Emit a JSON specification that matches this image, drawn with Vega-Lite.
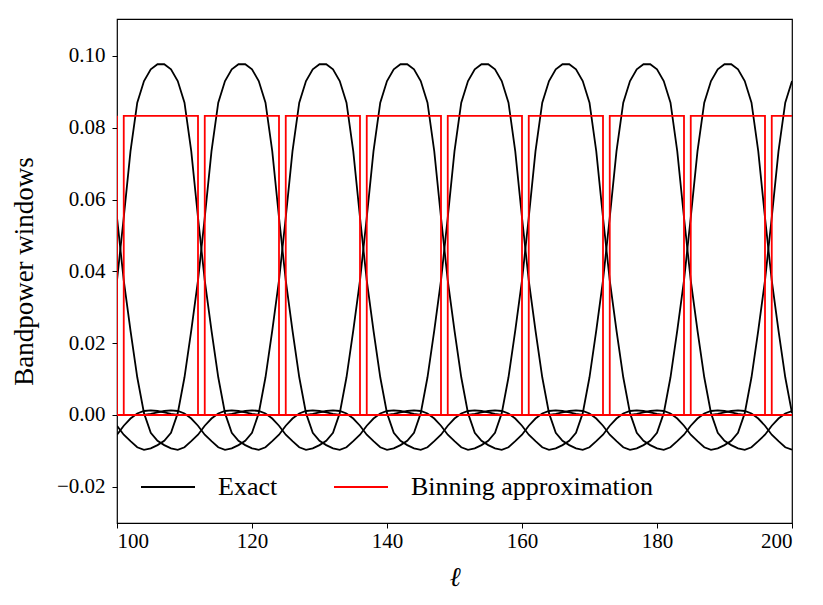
{
"$schema": "https://vega.github.io/schema/vega-lite/v6.json",
"width": 675, "height": 504,
"autosize": "none",
"padding": {"left": 117, "top": 19, "right": 31, "bottom": 82},
"config": {"view": {"stroke": "black", "strokeWidth": 1.2}, "font": "Liberation Serif",
  "axis": {"domain": false, "grid": false, "tickColor": "black", "tickSize": 5, "tickWidth": 1, "labelColor": "black", "labelFont": "Liberation Serif", "labelFontSize": 21, "titleColor": "black", "titleFont": "Liberation Serif", "titleFontWeight": "normal"}},
"datasets": {
"exact": [
{"w":82,"l":100,"v":-0.0055},{"w":82,"l":101,"v":-0.003},{"w":82,"l":102,"v":-0.001},{"w":82,"l":103,"v":0.0004},{"w":82,"l":104,"v":0.0011},{"w":82,"l":105,"v":0.0013},{"w":82,"l":106,"v":0.0011},{"w":82,"l":107,"v":0.0007},{"w":82,"l":108,"v":0.0003},{"w":82,"l":109,"v":0},
{"w":94,"l":100,"v":0.055},{"w":94,"l":101,"v":0.0375},{"w":94,"l":102,"v":0.0235},{"w":94,"l":103,"v":0.0105},{"w":94,"l":104,"v":0.0005},{"w":94,"l":105,"v":-0.005},{"w":94,"l":106,"v":-0.0072},{"w":94,"l":107,"v":-0.0084},{"w":94,"l":108,"v":-0.0093},{"w":94,"l":109,"v":-0.0097},{"w":94,"l":110,"v":-0.009},{"w":94,"l":111,"v":-0.0073},{"w":94,"l":112,"v":-0.0055},{"w":94,"l":113,"v":-0.003},{"w":94,"l":114,"v":-0.001},{"w":94,"l":115,"v":0.0004},{"w":94,"l":116,"v":0.0011},{"w":94,"l":117,"v":0.0013},{"w":94,"l":118,"v":0.0011},{"w":94,"l":119,"v":0.0007},{"w":94,"l":120,"v":0.0003},{"w":94,"l":121,"v":0},
{"w":106,"l":100,"v":0.0375},{"w":106,"l":101,"v":0.055},{"w":106,"l":102,"v":0.0735},{"w":106,"l":103,"v":0.087},{"w":106,"l":104,"v":0.093},{"w":106,"l":105,"v":0.0963},{"w":106,"l":106,"v":0.0977},{"w":106,"l":107,"v":0.0977},{"w":106,"l":108,"v":0.0963},{"w":106,"l":109,"v":0.093},{"w":106,"l":110,"v":0.087},{"w":106,"l":111,"v":0.0735},{"w":106,"l":112,"v":0.055},{"w":106,"l":113,"v":0.0375},{"w":106,"l":114,"v":0.0235},{"w":106,"l":115,"v":0.0105},{"w":106,"l":116,"v":0.0005},{"w":106,"l":117,"v":-0.005},{"w":106,"l":118,"v":-0.0072},{"w":106,"l":119,"v":-0.0084},{"w":106,"l":120,"v":-0.0093},{"w":106,"l":121,"v":-0.0097},{"w":106,"l":122,"v":-0.009},{"w":106,"l":123,"v":-0.0073},{"w":106,"l":124,"v":-0.0055},{"w":106,"l":125,"v":-0.003},{"w":106,"l":126,"v":-0.001},{"w":106,"l":127,"v":0.0004},{"w":106,"l":128,"v":0.0011},{"w":106,"l":129,"v":0.0013},{"w":106,"l":130,"v":0.0011},{"w":106,"l":131,"v":0.0007},{"w":106,"l":132,"v":0.0003},{"w":106,"l":133,"v":0},
{"w":118,"l":100,"v":-0.003},{"w":118,"l":101,"v":-0.0055},{"w":118,"l":102,"v":-0.0073},{"w":118,"l":103,"v":-0.009},{"w":118,"l":104,"v":-0.0097},{"w":118,"l":105,"v":-0.0093},{"w":118,"l":106,"v":-0.0084},{"w":118,"l":107,"v":-0.0072},{"w":118,"l":108,"v":-0.005},{"w":118,"l":109,"v":0.0005},{"w":118,"l":110,"v":0.0105},{"w":118,"l":111,"v":0.0235},{"w":118,"l":112,"v":0.0375},{"w":118,"l":113,"v":0.055},{"w":118,"l":114,"v":0.0735},{"w":118,"l":115,"v":0.087},{"w":118,"l":116,"v":0.093},{"w":118,"l":117,"v":0.0963},{"w":118,"l":118,"v":0.0977},{"w":118,"l":119,"v":0.0977},{"w":118,"l":120,"v":0.0963},{"w":118,"l":121,"v":0.093},{"w":118,"l":122,"v":0.087},{"w":118,"l":123,"v":0.0735},{"w":118,"l":124,"v":0.055},{"w":118,"l":125,"v":0.0375},{"w":118,"l":126,"v":0.0235},{"w":118,"l":127,"v":0.0105},{"w":118,"l":128,"v":0.0005},{"w":118,"l":129,"v":-0.005},{"w":118,"l":130,"v":-0.0072},{"w":118,"l":131,"v":-0.0084},{"w":118,"l":132,"v":-0.0093},{"w":118,"l":133,"v":-0.0097},{"w":118,"l":134,"v":-0.009},{"w":118,"l":135,"v":-0.0073},{"w":118,"l":136,"v":-0.0055},{"w":118,"l":137,"v":-0.003},{"w":118,"l":138,"v":-0.001},{"w":118,"l":139,"v":0.0004},{"w":118,"l":140,"v":0.0011},{"w":118,"l":141,"v":0.0013},{"w":118,"l":142,"v":0.0011},{"w":118,"l":143,"v":0.0007},{"w":118,"l":144,"v":0.0003},{"w":118,"l":145,"v":0},
{"w":130,"l":104,"v":0},{"w":130,"l":105,"v":0.0003},{"w":130,"l":106,"v":0.0007},{"w":130,"l":107,"v":0.0011},{"w":130,"l":108,"v":0.0013},{"w":130,"l":109,"v":0.0011},{"w":130,"l":110,"v":0.0004},{"w":130,"l":111,"v":-0.001},{"w":130,"l":112,"v":-0.003},{"w":130,"l":113,"v":-0.0055},{"w":130,"l":114,"v":-0.0073},{"w":130,"l":115,"v":-0.009},{"w":130,"l":116,"v":-0.0097},{"w":130,"l":117,"v":-0.0093},{"w":130,"l":118,"v":-0.0084},{"w":130,"l":119,"v":-0.0072},{"w":130,"l":120,"v":-0.005},{"w":130,"l":121,"v":0.0005},{"w":130,"l":122,"v":0.0105},{"w":130,"l":123,"v":0.0235},{"w":130,"l":124,"v":0.0375},{"w":130,"l":125,"v":0.055},{"w":130,"l":126,"v":0.0735},{"w":130,"l":127,"v":0.087},{"w":130,"l":128,"v":0.093},{"w":130,"l":129,"v":0.0963},{"w":130,"l":130,"v":0.0977},{"w":130,"l":131,"v":0.0977},{"w":130,"l":132,"v":0.0963},{"w":130,"l":133,"v":0.093},{"w":130,"l":134,"v":0.087},{"w":130,"l":135,"v":0.0735},{"w":130,"l":136,"v":0.055},{"w":130,"l":137,"v":0.0375},{"w":130,"l":138,"v":0.0235},{"w":130,"l":139,"v":0.0105},{"w":130,"l":140,"v":0.0005},{"w":130,"l":141,"v":-0.005},{"w":130,"l":142,"v":-0.0072},{"w":130,"l":143,"v":-0.0084},{"w":130,"l":144,"v":-0.0093},{"w":130,"l":145,"v":-0.0097},{"w":130,"l":146,"v":-0.009},{"w":130,"l":147,"v":-0.0073},{"w":130,"l":148,"v":-0.0055},{"w":130,"l":149,"v":-0.003},{"w":130,"l":150,"v":-0.001},{"w":130,"l":151,"v":0.0004},{"w":130,"l":152,"v":0.0011},{"w":130,"l":153,"v":0.0013},{"w":130,"l":154,"v":0.0011},{"w":130,"l":155,"v":0.0007},{"w":130,"l":156,"v":0.0003},{"w":130,"l":157,"v":0},
{"w":142,"l":116,"v":0},{"w":142,"l":117,"v":0.0003},{"w":142,"l":118,"v":0.0007},{"w":142,"l":119,"v":0.0011},{"w":142,"l":120,"v":0.0013},{"w":142,"l":121,"v":0.0011},{"w":142,"l":122,"v":0.0004},{"w":142,"l":123,"v":-0.001},{"w":142,"l":124,"v":-0.003},{"w":142,"l":125,"v":-0.0055},{"w":142,"l":126,"v":-0.0073},{"w":142,"l":127,"v":-0.009},{"w":142,"l":128,"v":-0.0097},{"w":142,"l":129,"v":-0.0093},{"w":142,"l":130,"v":-0.0084},{"w":142,"l":131,"v":-0.0072},{"w":142,"l":132,"v":-0.005},{"w":142,"l":133,"v":0.0005},{"w":142,"l":134,"v":0.0105},{"w":142,"l":135,"v":0.0235},{"w":142,"l":136,"v":0.0375},{"w":142,"l":137,"v":0.055},{"w":142,"l":138,"v":0.0735},{"w":142,"l":139,"v":0.087},{"w":142,"l":140,"v":0.093},{"w":142,"l":141,"v":0.0963},{"w":142,"l":142,"v":0.0977},{"w":142,"l":143,"v":0.0977},{"w":142,"l":144,"v":0.0963},{"w":142,"l":145,"v":0.093},{"w":142,"l":146,"v":0.087},{"w":142,"l":147,"v":0.0735},{"w":142,"l":148,"v":0.055},{"w":142,"l":149,"v":0.0375},{"w":142,"l":150,"v":0.0235},{"w":142,"l":151,"v":0.0105},{"w":142,"l":152,"v":0.0005},{"w":142,"l":153,"v":-0.005},{"w":142,"l":154,"v":-0.0072},{"w":142,"l":155,"v":-0.0084},{"w":142,"l":156,"v":-0.0093},{"w":142,"l":157,"v":-0.0097},{"w":142,"l":158,"v":-0.009},{"w":142,"l":159,"v":-0.0073},{"w":142,"l":160,"v":-0.0055},{"w":142,"l":161,"v":-0.003},{"w":142,"l":162,"v":-0.001},{"w":142,"l":163,"v":0.0004},{"w":142,"l":164,"v":0.0011},{"w":142,"l":165,"v":0.0013},{"w":142,"l":166,"v":0.0011},{"w":142,"l":167,"v":0.0007},{"w":142,"l":168,"v":0.0003},{"w":142,"l":169,"v":0},
{"w":154,"l":128,"v":0},{"w":154,"l":129,"v":0.0003},{"w":154,"l":130,"v":0.0007},{"w":154,"l":131,"v":0.0011},{"w":154,"l":132,"v":0.0013},{"w":154,"l":133,"v":0.0011},{"w":154,"l":134,"v":0.0004},{"w":154,"l":135,"v":-0.001},{"w":154,"l":136,"v":-0.003},{"w":154,"l":137,"v":-0.0055},{"w":154,"l":138,"v":-0.0073},{"w":154,"l":139,"v":-0.009},{"w":154,"l":140,"v":-0.0097},{"w":154,"l":141,"v":-0.0093},{"w":154,"l":142,"v":-0.0084},{"w":154,"l":143,"v":-0.0072},{"w":154,"l":144,"v":-0.005},{"w":154,"l":145,"v":0.0005},{"w":154,"l":146,"v":0.0105},{"w":154,"l":147,"v":0.0235},{"w":154,"l":148,"v":0.0375},{"w":154,"l":149,"v":0.055},{"w":154,"l":150,"v":0.0735},{"w":154,"l":151,"v":0.087},{"w":154,"l":152,"v":0.093},{"w":154,"l":153,"v":0.0963},{"w":154,"l":154,"v":0.0977},{"w":154,"l":155,"v":0.0977},{"w":154,"l":156,"v":0.0963},{"w":154,"l":157,"v":0.093},{"w":154,"l":158,"v":0.087},{"w":154,"l":159,"v":0.0735},{"w":154,"l":160,"v":0.055},{"w":154,"l":161,"v":0.0375},{"w":154,"l":162,"v":0.0235},{"w":154,"l":163,"v":0.0105},{"w":154,"l":164,"v":0.0005},{"w":154,"l":165,"v":-0.005},{"w":154,"l":166,"v":-0.0072},{"w":154,"l":167,"v":-0.0084},{"w":154,"l":168,"v":-0.0093},{"w":154,"l":169,"v":-0.0097},{"w":154,"l":170,"v":-0.009},{"w":154,"l":171,"v":-0.0073},{"w":154,"l":172,"v":-0.0055},{"w":154,"l":173,"v":-0.003},{"w":154,"l":174,"v":-0.001},{"w":154,"l":175,"v":0.0004},{"w":154,"l":176,"v":0.0011},{"w":154,"l":177,"v":0.0013},{"w":154,"l":178,"v":0.0011},{"w":154,"l":179,"v":0.0007},{"w":154,"l":180,"v":0.0003},{"w":154,"l":181,"v":0},
{"w":166,"l":140,"v":0},{"w":166,"l":141,"v":0.0003},{"w":166,"l":142,"v":0.0007},{"w":166,"l":143,"v":0.0011},{"w":166,"l":144,"v":0.0013},{"w":166,"l":145,"v":0.0011},{"w":166,"l":146,"v":0.0004},{"w":166,"l":147,"v":-0.001},{"w":166,"l":148,"v":-0.003},{"w":166,"l":149,"v":-0.0055},{"w":166,"l":150,"v":-0.0073},{"w":166,"l":151,"v":-0.009},{"w":166,"l":152,"v":-0.0097},{"w":166,"l":153,"v":-0.0093},{"w":166,"l":154,"v":-0.0084},{"w":166,"l":155,"v":-0.0072},{"w":166,"l":156,"v":-0.005},{"w":166,"l":157,"v":0.0005},{"w":166,"l":158,"v":0.0105},{"w":166,"l":159,"v":0.0235},{"w":166,"l":160,"v":0.0375},{"w":166,"l":161,"v":0.055},{"w":166,"l":162,"v":0.0735},{"w":166,"l":163,"v":0.087},{"w":166,"l":164,"v":0.093},{"w":166,"l":165,"v":0.0963},{"w":166,"l":166,"v":0.0977},{"w":166,"l":167,"v":0.0977},{"w":166,"l":168,"v":0.0963},{"w":166,"l":169,"v":0.093},{"w":166,"l":170,"v":0.087},{"w":166,"l":171,"v":0.0735},{"w":166,"l":172,"v":0.055},{"w":166,"l":173,"v":0.0375},{"w":166,"l":174,"v":0.0235},{"w":166,"l":175,"v":0.0105},{"w":166,"l":176,"v":0.0005},{"w":166,"l":177,"v":-0.005},{"w":166,"l":178,"v":-0.0072},{"w":166,"l":179,"v":-0.0084},{"w":166,"l":180,"v":-0.0093},{"w":166,"l":181,"v":-0.0097},{"w":166,"l":182,"v":-0.009},{"w":166,"l":183,"v":-0.0073},{"w":166,"l":184,"v":-0.0055},{"w":166,"l":185,"v":-0.003},{"w":166,"l":186,"v":-0.001},{"w":166,"l":187,"v":0.0004},{"w":166,"l":188,"v":0.0011},{"w":166,"l":189,"v":0.0013},{"w":166,"l":190,"v":0.0011},{"w":166,"l":191,"v":0.0007},{"w":166,"l":192,"v":0.0003},{"w":166,"l":193,"v":0},
{"w":178,"l":152,"v":0},{"w":178,"l":153,"v":0.0003},{"w":178,"l":154,"v":0.0007},{"w":178,"l":155,"v":0.0011},{"w":178,"l":156,"v":0.0013},{"w":178,"l":157,"v":0.0011},{"w":178,"l":158,"v":0.0004},{"w":178,"l":159,"v":-0.001},{"w":178,"l":160,"v":-0.003},{"w":178,"l":161,"v":-0.0055},{"w":178,"l":162,"v":-0.0073},{"w":178,"l":163,"v":-0.009},{"w":178,"l":164,"v":-0.0097},{"w":178,"l":165,"v":-0.0093},{"w":178,"l":166,"v":-0.0084},{"w":178,"l":167,"v":-0.0072},{"w":178,"l":168,"v":-0.005},{"w":178,"l":169,"v":0.0005},{"w":178,"l":170,"v":0.0105},{"w":178,"l":171,"v":0.0235},{"w":178,"l":172,"v":0.0375},{"w":178,"l":173,"v":0.055},{"w":178,"l":174,"v":0.0735},{"w":178,"l":175,"v":0.087},{"w":178,"l":176,"v":0.093},{"w":178,"l":177,"v":0.0963},{"w":178,"l":178,"v":0.0977},{"w":178,"l":179,"v":0.0977},{"w":178,"l":180,"v":0.0963},{"w":178,"l":181,"v":0.093},{"w":178,"l":182,"v":0.087},{"w":178,"l":183,"v":0.0735},{"w":178,"l":184,"v":0.055},{"w":178,"l":185,"v":0.0375},{"w":178,"l":186,"v":0.0235},{"w":178,"l":187,"v":0.0105},{"w":178,"l":188,"v":0.0005},{"w":178,"l":189,"v":-0.005},{"w":178,"l":190,"v":-0.0072},{"w":178,"l":191,"v":-0.0084},{"w":178,"l":192,"v":-0.0093},{"w":178,"l":193,"v":-0.0097},{"w":178,"l":194,"v":-0.009},{"w":178,"l":195,"v":-0.0073},{"w":178,"l":196,"v":-0.0055},{"w":178,"l":197,"v":-0.003},{"w":178,"l":198,"v":-0.001},{"w":178,"l":199,"v":0.0004},{"w":178,"l":200,"v":0.0011},
{"w":190,"l":164,"v":0},{"w":190,"l":165,"v":0.0003},{"w":190,"l":166,"v":0.0007},{"w":190,"l":167,"v":0.0011},{"w":190,"l":168,"v":0.0013},{"w":190,"l":169,"v":0.0011},{"w":190,"l":170,"v":0.0004},{"w":190,"l":171,"v":-0.001},{"w":190,"l":172,"v":-0.003},{"w":190,"l":173,"v":-0.0055},{"w":190,"l":174,"v":-0.0073},{"w":190,"l":175,"v":-0.009},{"w":190,"l":176,"v":-0.0097},{"w":190,"l":177,"v":-0.0093},{"w":190,"l":178,"v":-0.0084},{"w":190,"l":179,"v":-0.0072},{"w":190,"l":180,"v":-0.005},{"w":190,"l":181,"v":0.0005},{"w":190,"l":182,"v":0.0105},{"w":190,"l":183,"v":0.0235},{"w":190,"l":184,"v":0.0375},{"w":190,"l":185,"v":0.055},{"w":190,"l":186,"v":0.0735},{"w":190,"l":187,"v":0.087},{"w":190,"l":188,"v":0.093},{"w":190,"l":189,"v":0.0963},{"w":190,"l":190,"v":0.0977},{"w":190,"l":191,"v":0.0977},{"w":190,"l":192,"v":0.0963},{"w":190,"l":193,"v":0.093},{"w":190,"l":194,"v":0.087},{"w":190,"l":195,"v":0.0735},{"w":190,"l":196,"v":0.055},{"w":190,"l":197,"v":0.0375},{"w":190,"l":198,"v":0.0235},{"w":190,"l":199,"v":0.0105},{"w":190,"l":200,"v":0.0005},
{"w":202,"l":176,"v":0},{"w":202,"l":177,"v":0.0003},{"w":202,"l":178,"v":0.0007},{"w":202,"l":179,"v":0.0011},{"w":202,"l":180,"v":0.0013},{"w":202,"l":181,"v":0.0011},{"w":202,"l":182,"v":0.0004},{"w":202,"l":183,"v":-0.001},{"w":202,"l":184,"v":-0.003},{"w":202,"l":185,"v":-0.0055},{"w":202,"l":186,"v":-0.0073},{"w":202,"l":187,"v":-0.009},{"w":202,"l":188,"v":-0.0097},{"w":202,"l":189,"v":-0.0093},{"w":202,"l":190,"v":-0.0084},{"w":202,"l":191,"v":-0.0072},{"w":202,"l":192,"v":-0.005},{"w":202,"l":193,"v":0.0005},{"w":202,"l":194,"v":0.0105},{"w":202,"l":195,"v":0.0235},{"w":202,"l":196,"v":0.0375},{"w":202,"l":197,"v":0.055},{"w":202,"l":198,"v":0.0735},{"w":202,"l":199,"v":0.087},{"w":202,"l":200,"v":0.093},
{"w":214,"l":188,"v":0},{"w":214,"l":189,"v":0.0003},{"w":214,"l":190,"v":0.0007},{"w":214,"l":191,"v":0.0011},{"w":214,"l":192,"v":0.0013},{"w":214,"l":193,"v":0.0011},{"w":214,"l":194,"v":0.0004},{"w":214,"l":195,"v":-0.001},{"w":214,"l":196,"v":-0.003},{"w":214,"l":197,"v":-0.0055},{"w":214,"l":198,"v":-0.0073},{"w":214,"l":199,"v":-0.009},{"w":214,"l":200,"v":-0.0097}
],
"binned": [
{"b":89,"i":0,"l":100,"v":0.08333},{"b":89,"i":1,"l":100,"v":0},{"b":89,"i":2,"l":200,"v":0},
{"b":101,"i":0,"l":100,"v":0},{"b":101,"i":1,"l":101,"v":0},{"b":101,"i":2,"l":101,"v":0.08333},{"b":101,"i":3,"l":112,"v":0.08333},{"b":101,"i":4,"l":112,"v":0},{"b":101,"i":5,"l":200,"v":0},
{"b":113,"i":0,"l":100,"v":0},{"b":113,"i":1,"l":113,"v":0},{"b":113,"i":2,"l":113,"v":0.08333},{"b":113,"i":3,"l":124,"v":0.08333},{"b":113,"i":4,"l":124,"v":0},{"b":113,"i":5,"l":200,"v":0},
{"b":125,"i":0,"l":100,"v":0},{"b":125,"i":1,"l":125,"v":0},{"b":125,"i":2,"l":125,"v":0.08333},{"b":125,"i":3,"l":136,"v":0.08333},{"b":125,"i":4,"l":136,"v":0},{"b":125,"i":5,"l":200,"v":0},
{"b":137,"i":0,"l":100,"v":0},{"b":137,"i":1,"l":137,"v":0},{"b":137,"i":2,"l":137,"v":0.08333},{"b":137,"i":3,"l":148,"v":0.08333},{"b":137,"i":4,"l":148,"v":0},{"b":137,"i":5,"l":200,"v":0},
{"b":149,"i":0,"l":100,"v":0},{"b":149,"i":1,"l":149,"v":0},{"b":149,"i":2,"l":149,"v":0.08333},{"b":149,"i":3,"l":160,"v":0.08333},{"b":149,"i":4,"l":160,"v":0},{"b":149,"i":5,"l":200,"v":0},
{"b":161,"i":0,"l":100,"v":0},{"b":161,"i":1,"l":161,"v":0},{"b":161,"i":2,"l":161,"v":0.08333},{"b":161,"i":3,"l":172,"v":0.08333},{"b":161,"i":4,"l":172,"v":0},{"b":161,"i":5,"l":200,"v":0},
{"b":173,"i":0,"l":100,"v":0},{"b":173,"i":1,"l":173,"v":0},{"b":173,"i":2,"l":173,"v":0.08333},{"b":173,"i":3,"l":184,"v":0.08333},{"b":173,"i":4,"l":184,"v":0},{"b":173,"i":5,"l":200,"v":0},
{"b":185,"i":0,"l":100,"v":0},{"b":185,"i":1,"l":185,"v":0},{"b":185,"i":2,"l":185,"v":0.08333},{"b":185,"i":3,"l":196,"v":0.08333},{"b":185,"i":4,"l":196,"v":0},{"b":185,"i":5,"l":200,"v":0},
{"b":197,"i":0,"l":100,"v":0},{"b":197,"i":1,"l":197,"v":0},{"b":197,"i":2,"l":197,"v":0.08333},{"b":197,"i":3,"l":200,"v":0.08333}
]
},
"layer": [
{"data": {"name": "exact"},
 "mark": {"type": "line", "strokeWidth": 1.8, "clip": true},
 "encoding": {
  "x": {"field": "l", "type": "quantitative", "scale": {"domain": [100, 200], "nice": false, "zero": false},
        "axis": {"values": [100, 120, 140, 160, 180, 200], "format": "d", "labelPadding": 2, "labelFont": "Liberation Serif", "title": "ℓ", "titleFontSize": 27, "titleFontStyle": "italic", "titleBaseline": "middle", "titleY": 54}},
  "y": {"field": "v", "type": "quantitative", "scale": {"domain": [-0.0301, 0.1103], "nice": false, "zero": false},
        "axis": {"values": [-0.02, 0, 0.02, 0.04, 0.06, 0.08, 0.1], "format": ".2f", "labelPadding": 7, "labelFont": "Liberation Serif", "title": "Bandpower windows", "titleFontSize": 27, "titleBaseline": "middle", "titleX": -93, "titleY": 252}},
  "detail": {"field": "w", "type": "nominal"},
  "color": {"datum": "Exact", "type": "nominal",
            "scale": {"domain": ["Exact", "Binning approximation"], "range": ["#000000", "#ff0000"]},
            "legend": {"title": null, "orient": "none", "legendX": 23, "legendY": 440, "direction": "horizontal", "symbolType": "stroke", "symbolSize": 2916, "symbolStrokeWidth": 1.8, "labelFontSize": 26, "labelFont": "Liberation Serif", "labelColor": "black", "labelOffset": 22, "columnPadding": 52, "labelLimit": 400}}
 }},
{"data": {"name": "binned"},
 "mark": {"type": "line", "strokeWidth": 1.8, "clip": true},
 "encoding": {
  "x": {"field": "l", "type": "quantitative"},
  "y": {"field": "v", "type": "quantitative"},
  "detail": {"field": "b", "type": "nominal"},
  "order": {"field": "i", "type": "quantitative"},
  "color": {"datum": "Binning approximation", "type": "nominal"}
 }}
]
}
